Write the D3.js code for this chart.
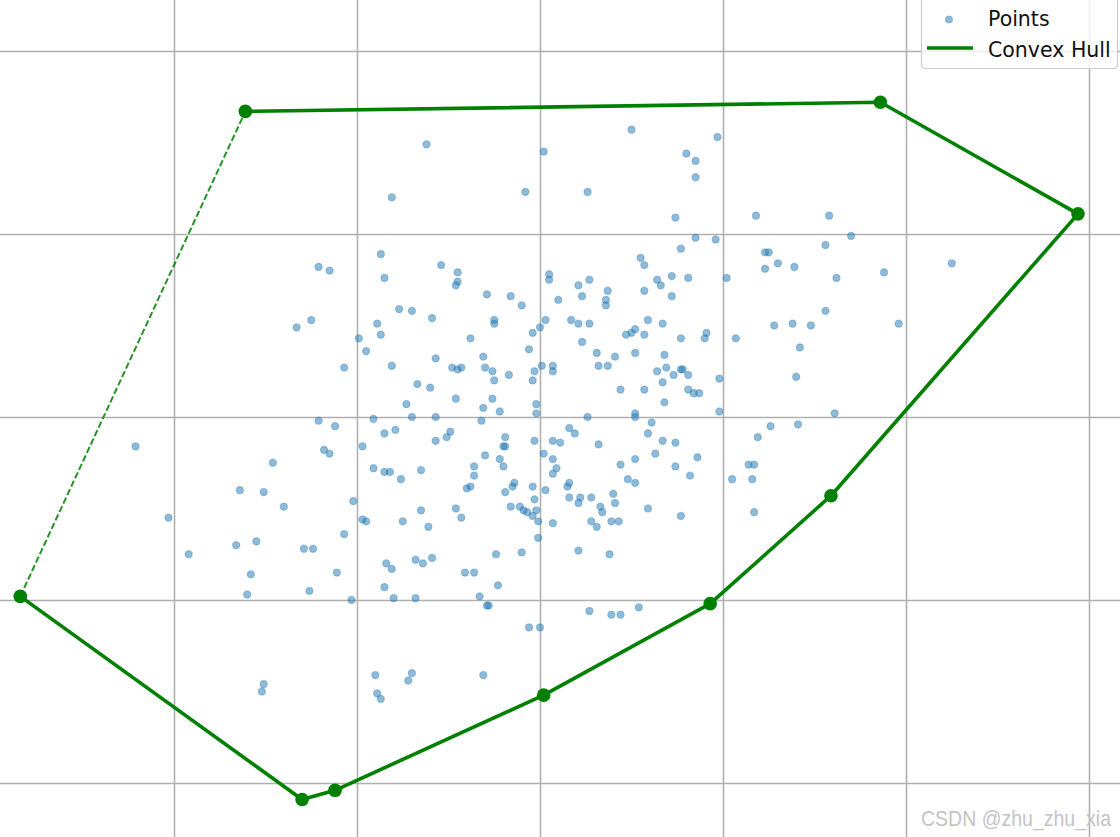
<!DOCTYPE html>
<meta charset="utf-8" />
<script src="https://cdn.jsdelivr.net/npm/d3@7/dist/d3.min.js"></script>
<html>
    <head>
        <title>Convex Hull</title>
        <style>
            body { margin: 0; background: #fff; }
            svg { display: block; }
            .legend text { font-family: "DejaVu Sans", sans-serif; font-size: 20.5px; fill: #111; }
            .grid line { stroke: #b0b0b0; stroke-width: 1.6; }
        </style>
    </head>
    <body>
        <script>
            // scattered points (grid unit = 1)
            const pointsX = [
                -0.62, 0.02, 0.50, 0.97, 0.80, 0.85, 0.85, -0.08, 0.26, -0.81,
                0.74, 1.18, 1.58, 1.70, 0.85, 0.96, 0.77, 0.55, 0.57, 1.56,
                1.23, 1.25, 1.30, 1.23, 1.39, 1.62, 1.88, 2.25, -0.87, -1.21,
                -1.15, -0.85, -0.54, -0.45, -0.45, -0.46, 0.05, 0.05, 0.21, 0.27,
                0.23, 0.37, 0.36, 0.36, 0.10, -0.29, -0.16, -0.10, 0.64, 0.66,
                0.72, 0.81, 1.02, 0.72, 0.57, -0.77, -0.70, -0.59, -0.89, -0.87,
                -1.33, -1.25, -0.99, -0.95, -0.25, -0.25, -0.38, 0.03, 0.00, -0.04,
                -0.06, 0.17, 0.21, 0.27, 0.23, 0.31, 0.41, 0.52, 0.47, 0.50,
                0.52, 0.57, 0.59, 0.67, 0.77, 0.90, 0.91, 1.07, 0.68, -0.57,
                -0.31, 1.56, 1.28, 1.38, 1.48, 1.96, 1.42, -1.07, -0.81, -0.48,
                -0.45, -0.43, -0.30, -0.26, -0.17, -0.03, 0.01, 0.07, 0.07, 0.32,
                0.37, 0.64, 0.69, 0.77, 0.78, 0.73, 0.81, 0.98, -0.67, -0.60,
                -0.25, -0.04, 0.44, 0.57, 0.67, 0.81, 0.84, 0.87, -0.73, -0.46,
                -0.26, -0.31, -0.22, -0.02, -0.02, 0.68, 0.98, -0.91, -0.70, -0.57,
                -0.32, 0.26, 0.52, 0.52, 0.61, -0.85, -0.79, -0.49, -0.51, -0.57,
                -0.19, -0.20, -0.19, -0.03, 0.07, 0.11, 0.16, 0.19, 0.32, 0.59,
                0.67, 0.74, -0.30, -0.22, -0.20, -0.36, -0.36, 0.02, 0.07, 0.09,
                0.07, 0.44, 0.52, 0.63, 0.74, 0.86, 0.82, 0.48, 0.52, -0.91,
                -0.85, -0.82, -0.65, -0.76, -0.38, -0.40, -0.15, -0.14, -0.04, 0.03,
                -0.19, -0.03, 0.15, 0.16, 0.16, 0.21, 0.22, 0.28, 0.33, 0.34,
                0.40, 0.41, 0.59, 0.77, 1.05, -0.65, -0.46, -0.43, -0.16, -0.11,
                -0.09, -0.07, -0.04, -0.02, -0.01, 0.07, -0.01, 0.28, 0.31, 0.39,
                0.43, -0.75, -0.61, -0.24, -0.10, 0.21, 0.38, -0.84, -0.81, -0.68,
                -0.64, -0.59, -0.41, -0.36, -0.23, -0.85, -0.80, -0.68, -0.33, -0.29,
                -0.28, 0.27, 0.39, 0.44, 0.54, -0.06, 0.00, 1.40, 1.61, 1.26,
                1.41, 1.19, 1.14, 1.17, 1.16, 1.17, -1.21, -1.12, -2.21, -0.97,
                -1.18, -1.15, -1.46, -1.64, -1.51, -1.40, -1.02, -2.03, -0.97, -0.95,
                -1.07, -1.92, -1.66, -1.55, -1.29, -1.24, -1.58, -1.11, -1.60, -1.26,
                -1.03, -1.51, -1.52, -0.90, -0.89, -0.87, -0.70, -0.72, -0.31
            ];
            const pointsY = [
                1.49, 1.45, 1.57, 1.53, 1.44, 1.40, 1.31, 1.23, 1.23, 1.20,
                1.09, 1.10, 1.10, 0.99, 0.98, 0.97, 0.92, 0.87, 0.83, 0.94,
                0.90, 0.90, 0.84, 0.81, 0.82, 0.76, 0.79, 0.84, 0.89, 0.82,
                0.80, 0.76, 0.83, 0.79, 0.74, 0.72, 0.78, 0.75, 0.72, 0.75,
                0.66, 0.69, 0.64, 0.61, 0.64, 0.67, 0.66, 0.61, 0.75, 0.72,
                0.77, 0.76, 0.76, 0.66, 0.69, 0.59, 0.58, 0.54, 0.51, 0.45,
                0.49, 0.53, 0.43, 0.36, 0.53, 0.51, 0.43, 0.53, 0.49, 0.46,
                0.37, 0.53, 0.51, 0.51, 0.41, 0.35, 0.33, 0.35, 0.45, 0.46,
                0.48, 0.45, 0.53, 0.51, 0.43, 0.43, 0.46, 0.43, 0.34, 0.32,
                0.33, 0.58, 0.50, 0.51, 0.50, 0.51, 0.38, 0.27, 0.28, 0.27,
                0.26, 0.27, 0.27, 0.25, 0.23, 0.25, 0.28, 0.28, 0.25, 0.28,
                0.28, 0.25, 0.27, 0.26, 0.26, 0.23, 0.23, 0.21, 0.18, 0.16,
                0.20, 0.20, 0.15, 0.15, 0.19, 0.15, 0.13, 0.13, 0.07, 0.10,
                0.10, 0.05, 0.03, 0.07, 0.02, 0.08, 0.03, -0.01, 0.00, 0.00,
                -0.02, 0.00, 0.00, 0.02, -0.03, -0.09, -0.07, -0.08, -0.11, -0.13,
                -0.11, -0.16, -0.16, -0.13, -0.13, -0.14, -0.06, -0.09, -0.15, -0.09,
                -0.13, -0.14, -0.21, -0.23, -0.27, -0.27, -0.32, -0.20, -0.23, -0.28,
                -0.31, -0.26, -0.23, -0.20, -0.27, -0.22, -0.32, -0.34, -0.36, -0.28,
                -0.30, -0.30, -0.29, -0.34, -0.38, -0.39, -0.38, -0.36, -0.38, -0.40,
                -0.41, -0.45, -0.38, -0.36, -0.44, -0.47, -0.44, -0.44, -0.49, -0.52,
                -0.42, -0.47, -0.50, -0.54, -0.34, -0.51, -0.50, -0.55, -0.49, -0.49,
                -0.51, -0.52, -0.54, -0.51, -0.57, -0.58, -0.66, -0.57, -0.60, -0.57,
                -0.57, -0.57, -0.60, -0.75, -0.74, -0.73, -0.75, -0.80, -0.83, -0.78,
                -0.80, -0.77, -0.85, -0.85, -0.92, -0.93, -0.99, -0.99, -0.98, -1.03,
                -1.03, -1.06, -1.08, -1.08, -1.04, -1.15, -1.15, 0.22, 0.02, -0.05,
                -0.04, -0.11, -0.26, -0.26, -0.34, -0.52, -0.02, -0.05, -0.16, -0.16,
                -0.18, -0.20, -0.25, -0.40, -0.41, -0.49, -0.46, -0.55, -0.56, -0.57,
                -0.64, -0.75, -0.70, -0.68, -0.72, -0.72, -0.86, -0.85, -0.97, -0.95,
                -1.00, -1.46, -1.50, -1.41, -1.51, -1.54, -1.40, -1.44, -1.41
            ];

            // hull vertices, in drawing order (last edge back to first is dashed)
            const hullX = [-1.61, 1.86, 2.94, 1.59, 0.93, 0.02, -1.12, -1.30, -2.84];
            const hullY = [1.67, 1.72, 1.11, -0.43, -1.02, -1.52, -2.04, -2.09, -0.98];

            const xTicks = [-2, -1, 0, 1, 2, 3];
            const yTicks = [-2, -1, 0, 1, 2];

            const legendLabels = ["Points", "Convex Hull"];

            var width = 1120,
                height = 837;

            const x = d3.scaleLinear().domain([-2, 3]).range([174, 1089]);
            const y = d3.scaleLinear().domain([-2, 2]).range([783, 51]);

            var svg = d3
                .select("body")
                .append("svg")
                .attr("width", width)
                .attr("height", height);

            // grid lines from the axes, labels dropped (figure is cropped)
            svg.append("g")
                .attr("class", "grid")
                .attr("transform", "translate(0," + height + ")")
                .call(d3.axisBottom(x).tickValues(xTicks).tickSize(-height).tickFormat(""))
                .call((g) => g.select(".domain").remove());

            svg.append("g")
                .attr("class", "grid")
                .call(d3.axisRight(y).tickValues(yTicks).tickSize(width).tickFormat(""))
                .call((g) => g.select(".domain").remove());

            const points = pointsX.map((v, i) => ({ x: v, y: pointsY[i] }));
            const hull = hullX.map((v, i) => ({ x: v, y: hullY[i] }));

            svg.append("g")
                .selectAll("circle")
                .data(points)
                .enter()
                .append("circle")
                .attr("cx", (d) => x(d.x))
                .attr("cy", (d) => y(d.y))
                .attr("r", 3.6)
                .style("fill", "#1f77b4")
                .style("fill-opacity", 0.5)
                .style("stroke", "#1f77b4")
                .style("stroke-opacity", 0.35)
                .style("stroke-width", 1.1);

            const line = d3.line().x((d) => x(d.x)).y((d) => y(d.y));

            // closing edge, dashed
            svg.append("path")
                .attr("d", line([hull[hull.length - 1], hull[0]]))
                .style("fill", "none")
                .style("stroke", "#008000")
                .style("stroke-opacity", 0.85)
                .style("stroke-width", 2)
                .style("stroke-dasharray", "6.5,2.8");

            svg.append("path")
                .attr("d", line(hull))
                .style("fill", "none")
                .style("stroke", "#008000")
                .style("stroke-width", 3.6)
                .style("stroke-linejoin", "round");

            svg.append("g")
                .selectAll("circle")
                .data(hull)
                .enter()
                .append("circle")
                .attr("cx", (d) => x(d.x))
                .attr("cy", (d) => y(d.y))
                .attr("r", 6.8)
                .style("fill", "#008000");

            // legend
            const legend = svg.append("g").attr("class", "legend");
            legend.append("rect")
                .attr("x", 921.5)
                .attr("y", -10)
                .attr("width", 196)
                .attr("height", 78.5)
                .attr("rx", 4)
                .style("fill", "#fff")
                .style("fill-opacity", 0.8)
                .style("stroke", "#cccccc")
                .style("stroke-width", 1.2);

            legend.append("circle")
                .attr("cx", 949)
                .attr("cy", 19.5)
                .attr("r", 3.6)
                .style("fill", "#1f77b4")
                .style("fill-opacity", 0.5)
                .style("stroke", "#1f77b4")
                .style("stroke-opacity", 0.35);

            legend.append("line")
                .attr("x1", 927)
                .attr("x2", 973)
                .attr("y1", 48)
                .attr("y2", 48)
                .style("stroke", "#008000")
                .style("stroke-width", 3.6);

            legend.selectAll("text")
                .data(legendLabels)
                .enter()
                .append("text")
                .attr("x", 988)
                .attr("y", (d, i) => 26 + i * 31)
                .text((d) => d);

            // watermark
            svg.append("text")
                .attr("x", 921)
                .attr("y", 826)
                .attr("textLength", 190)
                .attr("lengthAdjust", "spacingAndGlyphs")
                .style("font-family", "'Liberation Sans Narrow', 'Liberation Sans', sans-serif")
                .style("font-size", "22px")
                .style("fill", "#c4c4c4")
                .text("CSDN @zhu_zhu_xia");
        </script>
    </body>
</html>
